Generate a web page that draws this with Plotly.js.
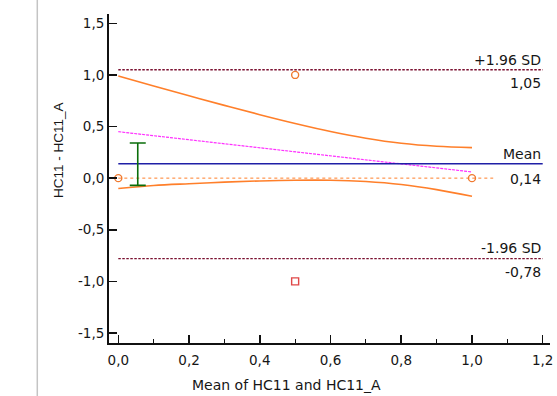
<!DOCTYPE html>
<html>
<head>
<meta charset="utf-8">
<script src="https://cdn.plot.ly/plotly-3.0.1.min.js"></script>
<style>
  html, body { margin: 0; padding: 0; background: #ffffff; }
  #chart { width: 557px; height: 396px; }
</style>
</head>
<body>
<div id="chart"></div>
<script>
// ---- Data ----
const pointMean = [0.0, 0.5, 1.0, 0.5];
const pointDiff = [0.0, 1.0, 0.0, -1.0];
const pointSymbol = ['circle-open', 'circle-open', 'circle-open', 'square-open'];
const pointColor = ['#f07a30', '#f07a30', '#f07a30', '#e04848'];

const meanDiff = 0.14;
const upperLoA = 1.05;
const lowerLoA = -0.78;
const meanCIlow = -0.07;
const meanCIhigh = 0.34;
const meanCIx = 0.055;

const regX = [0.0, 1.0];
const regY = [0.45, 0.06];

const curveX = [0.0, 0.1, 0.2, 0.3, 0.4, 0.5, 0.6, 0.7, 0.8, 0.9, 1.0];
const upperBand = [0.99, 0.893, 0.798, 0.705, 0.615, 0.530, 0.452, 0.387, 0.338, 0.309, 0.296];
const lowerBand = [-0.10, -0.071, -0.054, -0.039, -0.027, -0.020, -0.020, -0.033, -0.062, -0.111, -0.176];

const lineXStart = 0.0;
const lineXEnd = 1.2;
const zeroLineEnd = 1.06;

const xTickVals = [0.0, 0.2, 0.4, 0.6, 0.8, 1.0, 1.2];
const xTickText = ['0,0', '0,2', '0,4', '0,6', '0,8', '1,0', '1,2'];
const xMinorVals = [0.1, 0.3, 0.5, 0.7, 0.9, 1.1];
const yTickVals = [-1.5, -1.0, -0.5, 0.0, 0.5, 1.0, 1.5];
const yTickText = ['-1,5', '-1,0', '-0,5', '0,0', '0,5', '1,0', '1,5'];

const upperLabel = '+1.96 SD';
const lowerLabel = '-1.96 SD';
const meanLabel = 'Mean';
const upperValText = '1,05';
const lowerValText = '-0,78';
const meanValText = '0,14';
const xTitle = 'Mean of HC11 and HC11_A';
const yTitle = 'HC11 - HC11_A';

// ---- Styles ----
const textFont = 'DejaVu Sans, Liberation Sans, Arial, sans-serif';
const textColor = '#161616';
const orange = '#ff7f2a';

const traces = [
  { x: [lineXStart, zeroLineEnd], y: [0, 0], mode: 'lines',
    line: { color: orange, width: 1, dash: 'dot' }, hoverinfo: 'skip' },
  { x: [lineXStart, lineXEnd], y: [upperLoA, upperLoA], mode: 'lines',
    line: { color: '#7a1030', width: 1.3, dash: '2.5px,1.5px' }, hoverinfo: 'skip' },
  { x: [lineXStart, lineXEnd], y: [lowerLoA, lowerLoA], mode: 'lines',
    line: { color: '#7a1030', width: 1.3, dash: '2.5px,1.5px' }, hoverinfo: 'skip' },
  { x: regX, y: regY, mode: 'lines',
    line: { color: '#ff30ff', width: 1.2, dash: '3px,1px' }, hoverinfo: 'skip' },
  { x: curveX, y: upperBand, mode: 'lines', line: { color: orange, width: 1.6, shape: 'spline' } },
  { x: curveX, y: lowerBand, mode: 'lines', line: { color: orange, width: 1.6, shape: 'spline' } },
  { x: [lineXStart, lineXEnd], y: [meanDiff, meanDiff], mode: 'lines',
    line: { color: '#1f1fa6', width: 1.5 } },
  { x: [meanCIx], y: [meanDiff], mode: 'markers',
    marker: { size: 1, opacity: 0 },
    error_y: { type: 'data', symmetric: false,
      array: [meanCIhigh - meanDiff], arrayminus: [meanDiff - meanCIlow],
      color: '#0a6e0a', thickness: 1.6, width: 8 } },
  { x: pointMean, y: pointDiff, mode: 'markers',
    marker: { symbol: pointSymbol, size: 7, color: pointColor, line: { width: 1.4, color: pointColor } } }
];

const labelFont = { family: textFont, size: 14, color: textColor };
function lab(text, y, shift) {
  return { x: lineXEnd, y: y, xref: 'x', yref: 'y', text: text, showarrow: false,
    xanchor: 'right', yanchor: 'middle', yshift: shift, font: labelFont };
}

const layout = {
  width: 557, height: 396,
  margin: { l: 109, r: 7, t: 14, b: 53, pad: 0 },
  paper_bgcolor: '#ffffff', plot_bgcolor: '#ffffff',
  showlegend: false,
  font: { family: textFont, color: textColor },
  xaxis: {
    range: [-0.0263, 1.2206], showgrid: false, zeroline: false,
    showline: true, linecolor: '#111111', linewidth: 2,
    ticks: 'inside', ticklen: 8, tickwidth: 1.5, tickcolor: '#111111',
    tickmode: 'array', tickvals: xTickVals, ticktext: xTickText,
    tickfont: { family: textFont, size: 13.5, color: textColor },
    ticklabelstandoff: 4,
    minor: { tickmode: 'array', tickvals: xMinorVals, ticks: 'inside', ticklen: 4, tickwidth: 1.2, tickcolor: '#111111' },
    fixedrange: true
  },
  yaxis: {
    range: [-1.597, 1.590], showgrid: false, zeroline: false,
    showline: true, linecolor: '#111111', linewidth: 2,
    ticks: 'inside', ticklen: 8, tickwidth: 1.5, tickcolor: '#111111',
    tickmode: 'array', tickvals: yTickVals, ticktext: yTickText,
    tickfont: { family: textFont, size: 13.5, color: textColor },
    fixedrange: true
  },
  annotations: [
    lab(upperLabel, upperLoA, 10),
    lab(upperValText, upperLoA, -13),
    lab(meanLabel, meanDiff, 10),
    lab(meanValText, meanDiff, -15),
    lab(lowerLabel, lowerLoA, 11),
    lab(lowerValText, lowerLoA, -13),
    { x: 0.4036, y: -0.1277, xref: 'paper', yref: 'paper', text: xTitle, showarrow: false,
      xanchor: 'center', yanchor: 'middle', font: { family: textFont, size: 14, color: textColor } },
    { x: -0.1156, y: 0.5866, xref: 'paper', yref: 'paper', text: yTitle, showarrow: false,
      textangle: -90, xanchor: 'center', yanchor: 'middle',
      font: { family: 'Liberation Sans, Arial, sans-serif', size: 13.5, color: textColor } }
  ],
  shapes: [
    { type: 'line', xref: 'paper', yref: 'paper', x0: -0.1626, x1: -0.1626, y0: -0.161, y1: 1.0426,
      line: { color: '#c4c4c4', width: 1.5 } }
  ]
};

Plotly.newPlot('chart', traces, layout, { staticPlot: true, displayModeBar: false });
</script>
</body>
</html>
